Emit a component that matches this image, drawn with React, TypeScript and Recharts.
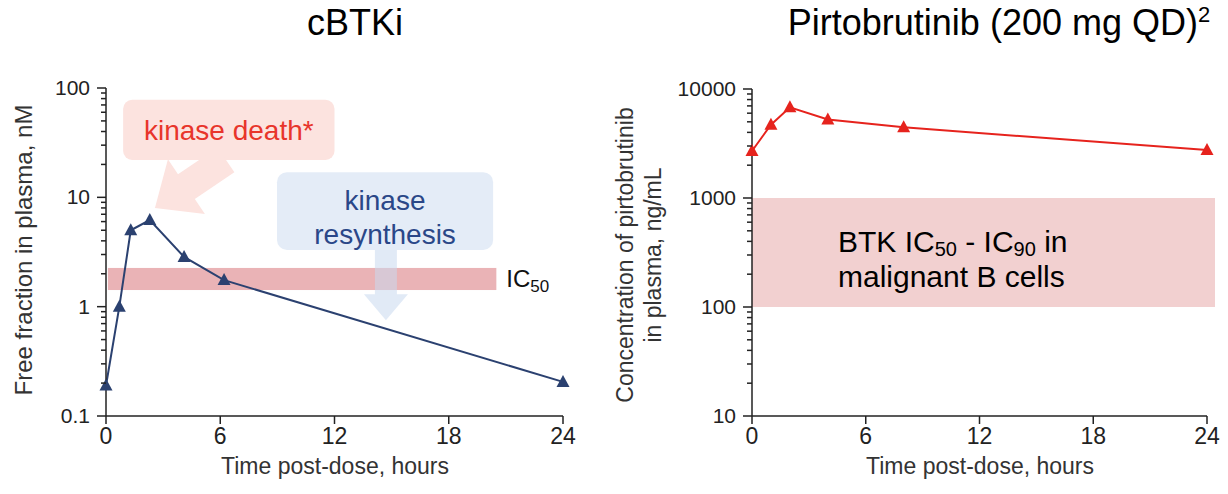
import { LineChart, Line, XAxis, YAxis, ReferenceArea } from "recharts";

// cBTKi free fraction (nM) vs hours
const cbtkHours = [0, 0.7, 1.3, 2.3, 4.1, 6.2, 24];
const cbtkConc = [0.19, 1.0, 5.0, 6.2, 2.85, 1.75, 0.205];

// pirtobrutinib plasma concentration (ng/mL) vs hours
const pirtoHours = [0, 1, 2, 4, 8, 24];
const pirtoConc = [2700, 4700, 6800, 5250, 4450, 2750];

const xTicks = [0, 6, 12, 18, 24];
const leftTicks = [0.1, 0.2, 0.3, 0.4, 0.5, 0.6, 0.7, 0.8, 0.9, 1, 2, 3, 4, 5, 6, 7, 8, 9, 10, 20, 30, 40, 50, 60, 70, 80, 90, 100];
const rightTicks = [10, 20, 30, 40, 50, 60, 70, 80, 90, 100, 200, 300, 400, 500, 600, 700, 800, 900, 1000, 2000, 3000, 4000, 5000, 6000, 7000, 8000, 9000, 10000];

const cbtkData = cbtkHours.map((h, i) => ({ h, v: cbtkConc[i] }));
const pirtoData = pirtoHours.map((h, i) => ({ h, v: pirtoConc[i] }));

const FONT = "'Liberation Sans', Arial, sans-serif";
const NAVY = "#2b4170";
const RED = "#e6231d";

const isMajor = (v: number) => Math.abs(Math.log10(v) - Math.round(Math.log10(v))) < 1e-6;

function LogTick(props: any) {
  const { x, y, payload } = props;
  const major = isMajor(payload.value);
  return (
    <g>
      <line x1={x} x2={x - (major ? 9 : 5)} y1={y} y2={y} stroke="#222" strokeWidth={1.5} />
      {major && (
        <text x={x - 16} y={y + 7} textAnchor="end" fontSize={21} fill="#222" fontFamily={FONT}>
          {payload.value}
        </text>
      )}
    </g>
  );
}

function Triangle(color: string) {
  return (props: any) => {
    const { cx, cy, index } = props;
    return (
      <polygon
        key={index}
        points={`${cx},${cy - 7} ${cx - 6.5},${cy + 5} ${cx + 6.5},${cy + 5}`}
        fill={color}
      />
    );
  };
}

function arrowPoints(x1: number, y1: number, x2: number, y2: number, shaft: number, headW: number, headL: number) {
  const dx = x2 - x1;
  const dy = y2 - y1;
  const len = Math.sqrt(dx * dx + dy * dy);
  const ux = dx / len;
  const uy = dy / len;
  const px = -uy;
  const py = ux;
  const bx = x2 - ux * headL;
  const by = y2 - uy * headL;
  const pts = [
    [x1 + px * shaft / 2, y1 + py * shaft / 2],
    [bx + px * shaft / 2, by + py * shaft / 2],
    [bx + px * headW / 2, by + py * headW / 2],
    [x2, y2],
    [bx - px * headW / 2, by - py * headW / 2],
    [bx - px * shaft / 2, by - py * shaft / 2],
    [x1 - px * shaft / 2, y1 - py * shaft / 2],
  ];
  return pts.map((p) => p.join(",")).join(" ");
}

const abs = (left: number, top: number, extra: any = {}) => ({
  position: "absolute" as const,
  left,
  top,
  fontFamily: FONT,
  whiteSpace: "nowrap" as const,
  ...extra,
});

export default function App() {
  return (
    <div style={{ position: "absolute", left: 0, top: 0, width: 1228, height: 494, background: "#fff", fontFamily: FONT }}>
      {/* titles */}
      <div style={abs(0, 2, { width: 710, textAlign: "center", fontSize: 36, color: "#000" })}>cBTKi</div>
      <div style={abs(600, 2, { width: 798, textAlign: "center", fontSize: 36, color: "#000" })}>
        Pirtobrutinib (200 mg QD)<sup style={{ fontSize: 22 }}>2</sup>
      </div>

      {/* left chart */}
      <div style={abs(0, 0)}>
        <LineChart width={600} height={494} data={cbtkData} margin={{ top: 88, right: 37, bottom: 0, left: 0 }}>
          <ReferenceArea
            x1={0.1}
            x2={20.5}
            y1={1.42}
            y2={2.26}
            shape={(p: any) => (
              <g>
                <rect x={p.x} y={p.y} width={p.width} height={p.height} fill="#e6a6a9" fillOpacity={0.85} />
                <text x={p.x + p.width + 10} y={p.y + p.height / 2 + 8} fontSize={24} fill="#111" fontFamily={FONT}>
                  IC<tspan fontSize={17} dy={5}>50</tspan>
                </text>
              </g>
            )}
          />
          <ReferenceArea
            x1={0.9}
            x2={12}
            y1={22}
            y2={78}
            shape={(p: any) => (
              <g>
                <rect x={p.x} y={p.y} width={p.width} height={p.height} rx={9} fill="#fce3df" />
                <text x={p.x + p.width / 2} y={p.y + p.height / 2 + 10} textAnchor="middle" fontSize={28} fill="#e8352b" fontFamily={FONT}>
                  kinase death*
                </text>
              </g>
            )}
          />
          <ReferenceArea
            x1={2.57}
            x2={6.3}
            y1={8}
            y2={22}
            shape={(p: any) => (
              <polygon points={arrowPoints(p.x + p.width, p.y, p.x, p.y + p.height, 30, 66, 38)} fill="#fce3df" />
            )}
          />
          <ReferenceArea
            x1={8.98}
            x2={20.33}
            y1={3.3}
            y2={17}
            shape={(p: any) => (
              <g>
                <rect x={p.x} y={p.y} width={p.width} height={p.height} rx={10} fill="#e4ecf7" />
                <text x={p.x + p.width / 2} y={p.y + 38} textAnchor="middle" fontSize={28} fill="#2a4788" fontFamily={FONT}>
                  kinase
                </text>
                <text x={p.x + p.width / 2} y={p.y + 72} textAnchor="middle" fontSize={28} fill="#2a4788" fontFamily={FONT}>
                  resynthesis
                </text>
              </g>
            )}
          />
          <ReferenceArea
            x1={14.2}
            x2={15.2}
            y1={0.75}
            y2={3.3}
            shape={(p: any) => (
              <polygon
                points={arrowPoints(p.x + p.width / 2, p.y, p.x + p.width / 2, p.y + p.height, 22, 44, 26)}
                fill="#c8d8ee"
                fillOpacity={0.55}
              />
            )}
          />
          <XAxis
            dataKey="h"
            type="number"
            domain={[0, 24]}
            ticks={xTicks}
            height={78}
            tickSize={8}
            tickMargin={4}
            stroke="#222"
            axisLine={{ strokeWidth: 1.5 }}
            tickLine={{ strokeWidth: 1.5 }}
            tick={{ fontSize: 23, fill: "#222", fontFamily: FONT }}
          />
          <YAxis
            dataKey="v"
            scale="log"
            domain={[0.1, 100]}
            ticks={leftTicks}
            interval={0}
            allowDataOverflow
            width={106}
            tickSize={0}
            tickMargin={0}
            tickLine={false}
            stroke="#222"
            axisLine={{ strokeWidth: 1.5 }}
            tick={<LogTick />}
          />
          <Line
            dataKey="v"
            stroke={NAVY}
            strokeWidth={2}
            dot={Triangle(NAVY)}
            activeDot={false}
            isAnimationActive={false}
          />
        </LineChart>
      </div>

      {/* right chart */}
      <div style={abs(600, 0)}>
        <LineChart width={628} height={494} data={pirtoData} margin={{ top: 89, right: 21, bottom: 0, left: 0 }}>
          <ReferenceArea
            x1={0}
            x2={24}
            y1={100}
            y2={1000}
            shape={(p: any) => (
              <g>
                <rect x={p.x} y={p.y} width={p.width + 8} height={p.height} fill="#f2d0d0" />
                <text x={p.x + 86} y={p.y + 54} fontSize={30} fill="#000" fontFamily={FONT}>
                  BTK IC<tspan fontSize={20} dy={4}>50</tspan>
                  <tspan dy={-4}> - IC</tspan>
                  <tspan fontSize={20} dy={4}>90</tspan>
                  <tspan dy={-4}> in</tspan>
                </text>
                <text x={p.x + 86} y={p.y + 89} fontSize={30} fill="#000" fontFamily={FONT}>
                  malignant B cells
                </text>
              </g>
            )}
          />
          <XAxis
            dataKey="h"
            type="number"
            domain={[0, 24]}
            ticks={xTicks}
            height={78}
            tickSize={8}
            tickMargin={4}
            stroke="#222"
            axisLine={{ strokeWidth: 1.5 }}
            tickLine={{ strokeWidth: 1.5 }}
            tick={{ fontSize: 23, fill: "#222", fontFamily: FONT }}
          />
          <YAxis
            dataKey="v"
            scale="log"
            domain={[10, 10000]}
            ticks={rightTicks}
            interval={0}
            allowDataOverflow
            width={152}
            tickSize={0}
            tickMargin={0}
            tickLine={false}
            stroke="#222"
            axisLine={{ strokeWidth: 1.5 }}
            tick={<LogTick />}
          />
          <Line
            dataKey="v"
            stroke={RED}
            strokeWidth={2}
            dot={Triangle(RED)}
            activeDot={false}
            isAnimationActive={false}
          />
        </LineChart>
      </div>

      {/* axis titles */}
      <div style={abs(335, 453, { transform: "translateX(-50%)", fontSize: 23, color: "#333" })}>Time post-dose, hours</div>
      <div style={abs(980, 453, { transform: "translateX(-50%)", fontSize: 23, color: "#333" })}>Time post-dose, hours</div>
      <div style={abs(24, 250, { transform: "translate(-50%, -50%) rotate(-90deg)", fontSize: 24, color: "#333" })}>
        Free fraction in plasma, nM
      </div>
      <div
        style={abs(639, 255, {
          transform: "translate(-50%, -50%) rotate(-90deg)",
          fontSize: 23,
          color: "#333",
          textAlign: "center",
          lineHeight: "28px",
        })}
      >
        Concentration of pirtobrutinib
        <br />
        in plasma, ng/mL
      </div>
    </div>
  );
}
